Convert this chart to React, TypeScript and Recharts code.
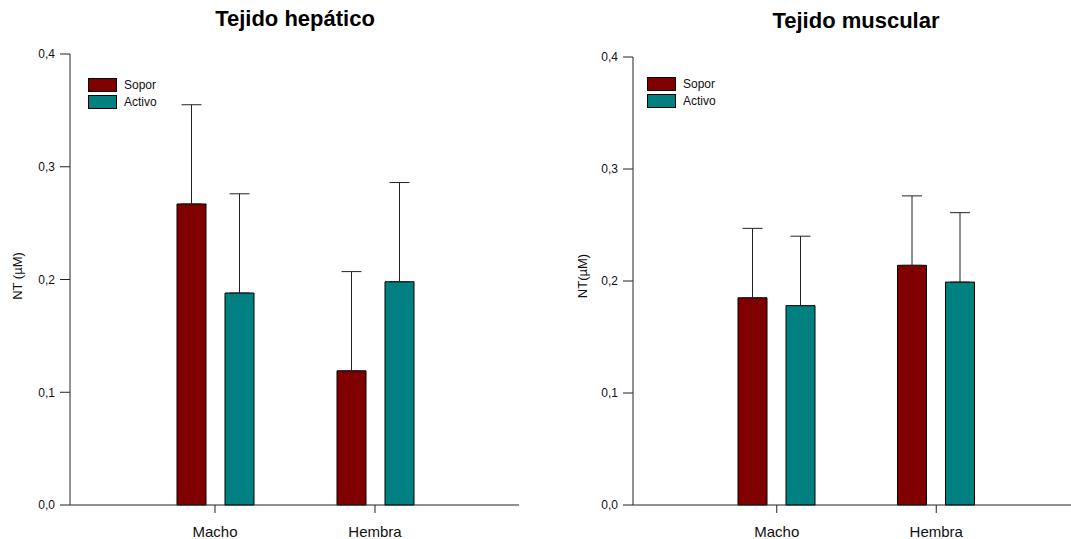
import { BarChart, Bar, XAxis, YAxis, ErrorBar } from "recharts";

// Values (NT in µM), one entry per category
const categories = ["Macho", "Hembra"];
const hepSopor = [0.267, 0.119];
const hepSoporErr = [0.088, 0.088];
const hepActivo = [0.188, 0.198];
const hepActivoErr = [0.088, 0.088];
const musSopor = [0.185, 0.214];
const musSoporErr = [0.062, 0.062];
const musActivo = [0.178, 0.199];
const musActivoErr = [0.062, 0.062];
const yTicks = [0, 0.1, 0.2, 0.3, 0.4];
const seriesNames = ["Sopor", "Activo"];

const COLORS = { sopor: "#800000", activo: "#008080" };
const FONT = "'Liberation Sans', Arial, sans-serif";
const AXIS = "#222";

function buildRows(sopor: number[], soporErr: number[], activo: number[], activoErr: number[]) {
  // error bars in the reference only go up, so lower error is 0
  return categories.map((name, i) => ({
    name,
    sopor: sopor[i],
    soporErr: [0, soporErr[i]],
    activo: activo[i],
    activoErr: [0, activoErr[i]],
  }));
}

const fmt = (v: number) => v.toFixed(1).replace(".", ",");

interface PanelProps {
  left: number;
  width: number;
  title: string;
  titleX: number;
  titleTop: number;
  yLabel: string;
  yLabelX: number;
  margin: { top: number; right: number; left: number; bottom: number };
  padding: { left: number; right: number };
  rightBorder: boolean;
  legendLeft: number;
  legendTop: number;
  rows: ReturnType<typeof buildRows>;
}

function Panel(p: PanelProps) {
  return (
    <div style={{ position: "absolute", left: p.left, top: 0, width: p.width, height: 539 }}>
      <div
        style={{
          position: "absolute",
          left: p.titleX - 150,
          width: 300,
          top: p.titleTop,
          textAlign: "center",
          fontFamily: FONT,
          fontWeight: "bold",
          fontSize: 22,
          lineHeight: "22px",
          color: "#000",
        }}
      >
        {p.title}
      </div>
      <BarChart width={p.width} height={539} data={p.rows} margin={p.margin} barSize={29} barGap={19}>
        <XAxis
          dataKey="name"
          padding={p.padding}
          height={34}
          tickSize={8}
          tickMargin={13}
          axisLine={{ stroke: AXIS }}
          tickLine={{ stroke: AXIS }}
          tick={{ fontFamily: FONT, fontSize: 15, fill: "#111" }}
        />
        <XAxis xAxisId="top" dataKey="name" orientation="top" height={0} padding={p.padding} tick={false} tickLine={false} axisLine={{ stroke: AXIS }} />
        <YAxis
          domain={[0, 0.4]}
          ticks={yTicks}
          tickFormatter={fmt}
          width={40}
          tickSize={10}
          tickMargin={5}
          axisLine={{ stroke: AXIS }}
          tickLine={{ stroke: AXIS }}
          tick={{ fontFamily: FONT, fontSize: 12, fill: "#111" }}
          label={{
            content: () => (
              <text
                x={p.yLabelX}
                y={276}
                transform={`rotate(-90 ${p.yLabelX} 276)`}
                textAnchor="middle"
                fontFamily={FONT}
                fontSize={13}
                fill="#111"
              >
                {p.yLabel}
              </text>
            ),
          }}
        />
        {p.rightBorder && (
          <YAxis yAxisId="right" orientation="right" width={0} domain={[0, 0.4]} tick={false} tickLine={false} axisLine={{ stroke: AXIS }} />
        )}
        <Bar dataKey="sopor" fill={COLORS.sopor} stroke="#000" strokeWidth={1} isAnimationActive={false}>
          <ErrorBar dataKey="soporErr" width={10} stroke="#222" strokeWidth={1} direction="y" />
        </Bar>
        <Bar dataKey="activo" fill={COLORS.activo} stroke="#000" strokeWidth={1} isAnimationActive={false}>
          <ErrorBar dataKey="activoErr" width={10} stroke="#222" strokeWidth={1} direction="y" />
        </Bar>
      </BarChart>
      <div style={{ position: "absolute", left: p.legendLeft, top: p.legendTop, fontFamily: FONT, fontSize: 12, color: "#111" }}>
        {seriesNames.map((n, i) => (
          <div key={n} style={{ display: "flex", alignItems: "center", height: 17 }}>
            <div
              style={{
                width: 27,
                height: 12,
                background: i === 0 ? COLORS.sopor : COLORS.activo,
                border: "1px solid #000",
                marginRight: 7,
              }}
            />
            <span>{n}</span>
          </div>
        ))}
      </div>
    </div>
  );
}

export default function App() {
  return (
    <div style={{ position: "fixed", left: 0, top: 0, width: 1071, height: 539, background: "#fff", overflow: "hidden" }}>
      <style>{"html,body{overflow:hidden;margin:0}"}</style>
      <Panel
        left={0}
        width={540}
        title="Tejido hepático"
        titleX={295}
        titleTop={8}
        yLabel="NT (µM)"
        yLabelX={22}
        margin={{ top: 54, right: 21, left: 30, bottom: 0 }}
        padding={{ left: 65, right: 64 }}
        rightBorder={true}
        legendLeft={88}
        legendTop={76}
        rows={buildRows(hepSopor, hepSoporErr, hepActivo, hepActivoErr)}
      />
      {/* right panel runs past the window edge, like the cropped reference */}
      <Panel
        left={540}
        width={560}
        title="Tejido muscular"
        titleX={316}
        titleTop={10}
        yLabel="NT(µM)"
        yLabelX={47}
        margin={{ top: 57, right: 0, left: 53, bottom: 0 }}
        padding={{ left: 64, right: 84 }}
        rightBorder={false}
        legendLeft={107}
        legendTop={75}
        rows={buildRows(musSopor, musSoporErr, musActivo, musActivoErr)}
      />
    </div>
  );
}
